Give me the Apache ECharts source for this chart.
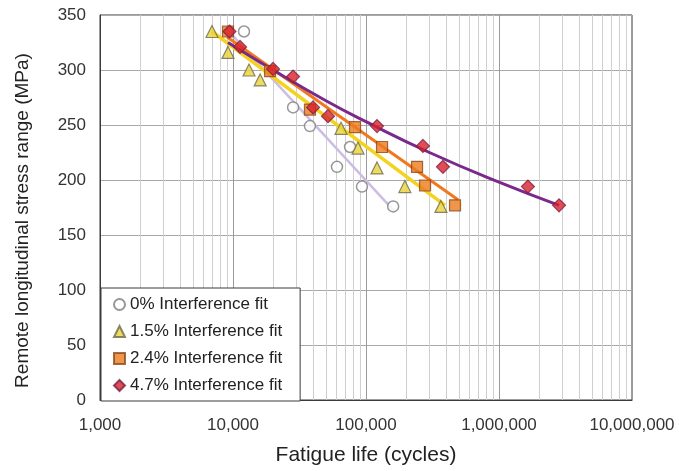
<!DOCTYPE html>
<html>
<head>
<meta charset="utf-8">
<script src="https://cdn.jsdelivr.net/npm/echarts@6/dist/echarts.min.js"></script>
<style>
html,body{margin:0;padding:0;background:#fff;}
#chart{width:679px;height:471px;}
</style>
</head>
<body>
<div id="chart"></div>
<script>
// ---- data ----
var seriesNames = ['0% Interference fit', '1.5% Interference fit', '2.4% Interference fit', '4.7% Interference fit'];

var cycles0 = [12100, 28300, 37900, 60500, 75900, 93300, 160000];
var stress0 = [335, 266, 249, 212, 230, 194, 176];

var cycles15 = [6950, 9170, 13200, 16000, 64900, 87100, 121000, 196000, 366000];
var stress15 = [335, 316, 300, 291, 247, 229, 211, 194, 176];

var cycles24 = [9170, 19000, 37900, 82700, 132000, 242000, 278000, 467000];
var stress24 = [335, 299, 264, 248, 230, 212, 195, 177];

var cycles47 = [9400, 11300, 20000, 28300, 40000, 51800, 121000, 268000, 379000, 1650000, 2830000];
var stress47 = [335, 321, 301, 294, 266, 258, 249, 231, 212, 194, 177];

// fitted trend lines
var fit0Cycles = [9820, 165000];
var fit0Stress = [332, 171];
var fit15Cycles = [6950, 393000];
var fit15Stress = [335, 177];
var fit24Cycles = [9020, 492000];
var fit24Stress = [330, 182];
var fit47Cycles = [9170, 20000, 50000, 100000, 300000, 1000000, 2830000];
var fit47Stress = [325, 300, 272, 253, 225, 198, 177];

var xTicksMinor = [2000,3000,4000,5000,6000,7000,8000,9000,
  20000,30000,40000,50000,60000,70000,80000,90000,
  200000,300000,400000,500000,600000,700000,800000,900000,
  2000000,3000000,4000000,5000000,6000000,7000000,8000000,9000000];

function pairs(xs, ys){ return xs.map(function(x,i){ return [x, ys[i]]; }); }

var chart = echarts.init(document.getElementById('chart'), null, {renderer:'canvas'});

var FONT = '"Liberation Sans", Arial, sans-serif';

var option = {
  animation: false,
  backgroundColor: '#ffffff',
  grid: { left: 100, right: 47, top: 15, bottom: 71, show: true, borderColor: '#3a3a3a', borderWidth: 1, backgroundColor: '#fff' },
  legend: {
    data: seriesNames,
    orient: 'vertical',
    left: 101, top: 288,
    padding: [8, 18, 7, 12],
    itemWidth: 11, itemHeight: 11, itemGap: 10,
    backgroundColor: '#ffffff',
    borderColor: '#3a3a3a', borderWidth: 1,
    textStyle: { fontFamily: FONT, fontSize: 17, color: '#222', lineHeight: 16 },
    z: 6
  },
  xAxis: {
    type: 'log', logBase: 10, min: 1000, max: 10000000,
    name: 'Fatigue life (cycles)', nameLocation: 'middle', nameGap: 45,
    nameTextStyle: { fontFamily: FONT, fontSize: 21, color: '#222' },
    axisLine: { show: true, onZero: false, lineStyle: { color: '#3a3a3a' } },
    axisTick: { show: false },
    axisLabel: { fontFamily: FONT, fontSize: 17, color: '#333', margin: 17,
      formatter: function(v){ return Math.round(v).toLocaleString('en-US'); } },
    splitLine: { show: true, lineStyle: { color: '#9a9a9a', width: 1 } }
  },
  yAxis: {
    type: 'value', min: 0, max: 350, interval: 50,
    name: 'Remote longitudinal stress range (MPa)', nameLocation: 'middle', nameGap: 68,
    nameTextStyle: { fontFamily: FONT, fontSize: 19, color: '#222', padding: [0, 26, 0, 0] },
    axisLine: { show: true, lineStyle: { color: '#3a3a3a' } },
    axisTick: { show: false },
    axisLabel: { fontFamily: FONT, fontSize: 17, color: '#333', margin: 14 },
    splitLine: { show: true, lineStyle: { color: '#a8a8a8', width: 1 } }
  },
  series: [
    {
      type: 'line', name: 'minorGrid', data: [], silent: true, z: 1,
      markLine: {
        silent: true, symbol: ['none','none'], animation: false, z: 1,
        label: { show: false },
        emphasis: { disabled: true },
        lineStyle: { color: '#cfcfcf', width: 1, type: 'solid' },
        data: xTicksMinor.map(function(v){ return { xAxis: v }; })
      }
    },
    { type: 'line', name: 'fit0', data: pairs(fit0Cycles, fit0Stress), showSymbol: false, silent: true, z: 3,
      lineStyle: { color: '#cdbde3', width: 2.5 } },
    { type: 'line', name: 'fit15', data: pairs(fit15Cycles, fit15Stress), showSymbol: false, silent: true, z: 3,
      lineStyle: { color: '#f4d320', width: 3.5 } },
    { type: 'line', name: 'fit24', data: pairs(fit24Cycles, fit24Stress), showSymbol: false, silent: true, z: 3,
      lineStyle: { color: '#f0781e', width: 3 } },
    { type: 'line', name: 'fit47', data: pairs(fit47Cycles, fit47Stress), showSymbol: false, silent: true, z: 3, smooth: true,
      lineStyle: { color: '#7a2a8a', width: 3 } },
    { type: 'scatter', name: seriesNames[0], data: pairs(cycles0, stress0), symbol: 'circle', symbolSize: 11, z: 4,
      itemStyle: { color: '#ffffff', borderColor: '#7d7d7d', borderWidth: 1.5 } },
    { type: 'scatter', name: seriesNames[1], data: pairs(cycles15, stress15), symbol: 'triangle', symbolSize: 12, z: 4,
      itemStyle: { color: '#e8d33a', borderColor: '#6d6a4a', borderWidth: 1.2 } },
    { type: 'scatter', name: seriesNames[2], data: pairs(cycles24, stress24), symbol: 'rect', symbolSize: 11, z: 4,
      itemStyle: { color: '#ee7a1e', borderColor: '#8a4a1a', borderWidth: 1.2 } },
    { type: 'scatter', name: seriesNames[3], data: pairs(cycles47, stress47), symbol: 'diamond', symbolSize: 13, z: 4,
      itemStyle: { color: '#d8202c', borderColor: '#7a2240', borderWidth: 1.2 } }
  ]
};
chart.setOption(option);
</script>
</body>
</html>
